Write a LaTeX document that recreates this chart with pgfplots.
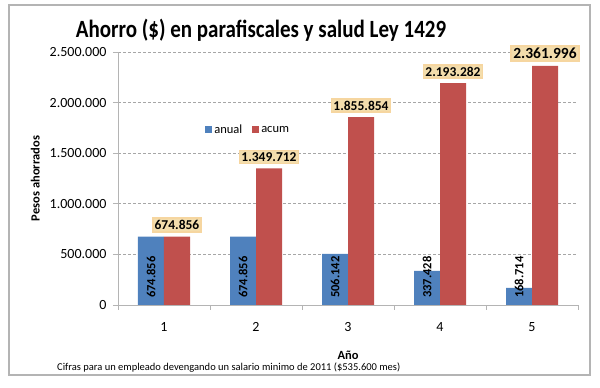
\documentclass[border=0pt]{standalone}
\usepackage{fontspec}
\setmainfont{Carlito}
\usepackage{pgfplots}
\pgfplotsset{compat=1.18}
\definecolor{blueX}{RGB}{79,129,189}
\definecolor{redX}{RGB}{192,80,77}
\definecolor{tanX}{RGB}{243,221,172}
\definecolor{glowX}{RGB}{246,214,160}
\definecolor{frameX}{RGB}{180,180,180}
\begin{document}
\begin{tikzpicture}
\path[use as bounding box] (0pt,0pt) rectangle (600pt,388pt);
\draw[frameX, line width=1.5pt] (9pt,13pt) rectangle (590pt,383pt);
\node[font=\bfseries\fontsize{21}{24}\selectfont, anchor=center] at (261pt,358pt) {\scalebox{1}[1.18]{Ahorro (\$) en parafiscales y salud Ley 1429}};
\node[font=\fontsize{10.5}{12}\selectfont, anchor=west, inner sep=0pt] at (57pt,20pt) {Cifras para un empleado devengando un salario minimo de 2011 (\$535.600 mes)};
\begin{axis}[
  at={(118pt,83pt)}, anchor=south west,
  scale only axis, width=460pt, height=253pt,
  xmin=0.5, xmax=5.5, ymin=0, ymax=2500000,
  axis lines=left, axis line style={-, frameX, line width=0.8pt},
  clip=false,
  scaled y ticks=false,
  /pgf/number format/assume math mode=true,
  ticklabel style={font=\fontsize{14}{16}\selectfont},
  xtick={1,2,3,4,5}, xticklabels={1,2,3,4,5},
  major x tick style={draw=none},
  minor xtick={0.5,1.5,2.5,3.5,4.5,5.5},
  minor x tick style={frameX, line width=0.8pt},
  minor tick length=5pt,
  tick align=outside,
  xticklabel style={yshift=-9pt},
  yticklabel style={xshift=-3pt},
  ytick={0,500000,1000000,1500000,2000000,2500000},
  yticklabels={0,500.000,1.000.000,1.500.000,2.000.000,2.500.000},
  major y tick style={frameX, line width=0.8pt},
  major tick length=5pt,
  ymajorgrids, grid style={densely dashed, gray!70, line width=0.6pt},
  xlabel={\bfseries Año}, xlabel style={font=\fontsize{12.5}{14}\selectfont, yshift=-12pt},
  ylabel={\bfseries Pesos ahorrados}, ylabel style={font=\fontsize{12.5}{14}\selectfont, at={(axis description cs:-0.18,0.5)}, anchor=center, rotate=0},
  legend style={at={(0.283,0.692)}, anchor=center, draw=none, fill=none, legend columns=2,
    font=\fontsize{12.5}{14}\selectfont, /tikz/every even column/.append style={column sep=8pt}},
  legend cell align=left,
]
\addplot[ybar, bar width=26pt, bar shift=-13pt, fill=blueX, draw=none,
  legend image code/.code={\fill[blueX] (0pt,-3.5pt) rectangle (7pt,3.5pt);}]
  coordinates {(1,674856) (2,674856) (3,506142) (4,337428) (5,168714)};
\addlegendentry{anual}
\addplot[ybar, bar width=26pt, bar shift=13pt, fill=redX, draw=none,
  legend image code/.code={\fill[redX] (0pt,-3.5pt) rectangle (7pt,3.5pt);}]
  coordinates {(1,674856) (2,1349712) (3,1855854) (4,2193282) (5,2361996)};
\addlegendentry{acum}
% anual labels
\addplot[draw=none, forget plot, nodes near coords, point meta=explicit symbolic,
  every node near coord/.style={rotate=90, anchor=west, text=black, inner sep=0pt,
    font=\bfseries\fontsize{12.5}{14}\selectfont}]
  coordinates {(0.859,70000) [674.856] (1.859,70000) [674.856] (2.859,70000) [506.142] (3.859,70000) [337.428] (4.859,70000) [168.714]};
% acum labels
\addplot[draw=none, forget plot, nodes near coords, point meta=explicit symbolic,
  every node near coord/.style={anchor=south, text=black, fill=tanX, draw=glowX, line width=1.8pt,
    inner sep=2pt, yshift=4pt, font=\bfseries\fontsize{13.5}{15}\selectfont}]
  coordinates {(1.141,674856) [674.856] (2.141,1349712) [1.349.712] (3.141,1855854) [1.855.854] (4.141,2193282) [2.193.282]};
\addplot[draw=none, forget plot, nodes near coords, point meta=explicit symbolic,
  every node near coord/.style={anchor=south, text=black, fill=tanX, draw=glowX, line width=1.8pt,
    inner sep=2pt, yshift=4pt, font=\bfseries\fontsize{15.5}{17}\selectfont}]
  coordinates {(5.141,2361996) [2.361.996]};
\end{axis}
\end{tikzpicture}
\end{document}
